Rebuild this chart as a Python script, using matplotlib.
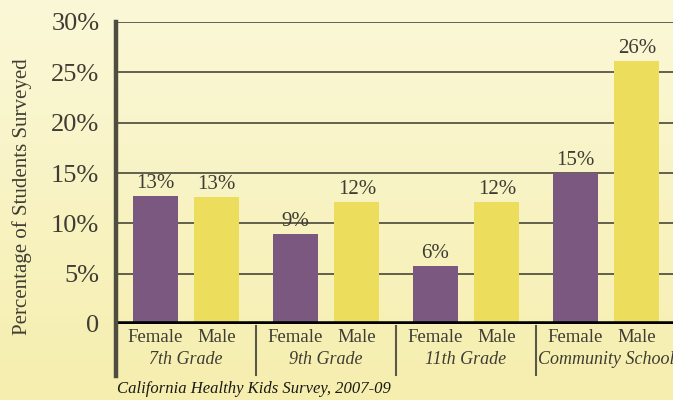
import numpy as np
import matplotlib
matplotlib.use("Agg")
import matplotlib.pyplot as plt
from matplotlib.colors import LinearSegmentedColormap

groups = ["7th Grade", "9th Grade", "11th Grade", "Community School"]
female = [12.7, 8.9, 5.8, 15.0]
male = [12.6, 12.1, 12.1, 26.1]
female_labels = ["13%", "9%", "6%", "15%"]
male_labels = ["13%", "12%", "12%", "26%"]
sub_labels = ["Female", "Male"]
yticks = [0, 5, 10, 15, 20, 25, 30]
ytick_labels = ["0", "5%", "10%", "15%", "20%", "25%", "30%"]
ylabel = "Percentage of Students Surveyed"
source = "California Healthy Kids Survey, 2007-09"

W, H = 673, 400
fig = plt.figure(figsize=(W / 100, H / 100), dpi=100)

# background gradient
bg = fig.add_axes([0, 0, 1, 1], zorder=-10)
cmap = LinearSegmentedColormap.from_list("bg", ["#FBF8D8", "#F6EEAE"])
grad = np.linspace(0, 1, 256).reshape(-1, 1)
bg.imshow(grad, aspect="auto", cmap=cmap, extent=[0, 1, 0, 1], origin="upper")
bg.axis("off")

serif = ["Liberation Serif", "DejaVu Serif"]
textc = "#3f3d33"

left_px, right_px, y0_px, ytop_px = 116, 673, 324, 22
ax = fig.add_axes([left_px / W, 1 - y0_px / H, (right_px - left_px) / W, (y0_px - ytop_px) / H])
ax.patch.set_alpha(0)
ax.set_ylim(0, 30)
ax.set_xlim(0, (right_px - left_px) / 140)

purple = "#7A5880"
yellow = "#ECDD5C"
bw = 0.32
off = 0.22
x = np.arange(len(groups)) + 0.5
bf = ax.bar(x - off, female, bw, color=purple, zorder=3)
bm = ax.bar(x + off, male, bw, color=yellow, zorder=3)

for rect, lab in zip(bf, female_labels):
    ax.text(rect.get_x() + rect.get_width() / 2, rect.get_height() + 0.3, lab,
            ha="center", va="bottom", fontsize=15, family=serif, color=textc)
for rect, lab in zip(bm, male_labels):
    ax.text(rect.get_x() + rect.get_width() / 2, rect.get_height() + 0.3, lab,
            ha="center", va="bottom", fontsize=15, family=serif, color=textc)

for yv in yticks[1:]:
    ax.axhline(yv, color="#3a382c", lw=1.1, zorder=1)
ax.axhline(0, color="#000000", lw=4, zorder=4)

ax.set_yticks(yticks)
ax.set_yticklabels(ytick_labels, fontsize=19, family=serif, color=textc)
ax.tick_params(axis="y", length=0, pad=12)
ax.set_xticks([])
for s in ["top", "right", "bottom", "left"]:
    ax.spines[s].set_visible(False)

# left spine extending below axis
fig.add_artist(plt.Line2D([left_px / W, left_px / W], [1 - 22 / H, 1 - 376 / H],
                          color="#4f4d40", lw=3.2, transform=fig.transFigure, zorder=5))

# category labels
trans = ax.get_xaxis_transform()
for i, g in enumerate(groups):
    for xx, lab in zip([x[i] - off, x[i] + off], sub_labels):
        ax.text(xx, -0.045, lab, transform=trans, ha="center", va="center",
                fontsize=13.5, family=serif, color=textc, clip_on=False)
    ax.text(x[i], -0.118, g, transform=trans, ha="center", va="center",
            fontsize=13, family=serif, style="italic", color=textc, clip_on=False)
    if i > 0:
        ax.plot([i, i], [-0.008, -0.17], transform=trans, color="#5a5848", lw=1.5,
                clip_on=False)

fig.text(22 / W, 1 - 197 / H, ylabel, rotation=90, ha="center", va="center",
         fontsize=15, family=serif, color=textc)
fig.text(117 / W, 1 - 389 / H, source, ha="left", va="center", fontsize=12,
         family=serif, style="italic", color="#1a1a14")

fig.savefig("out.png", dpi=100)
